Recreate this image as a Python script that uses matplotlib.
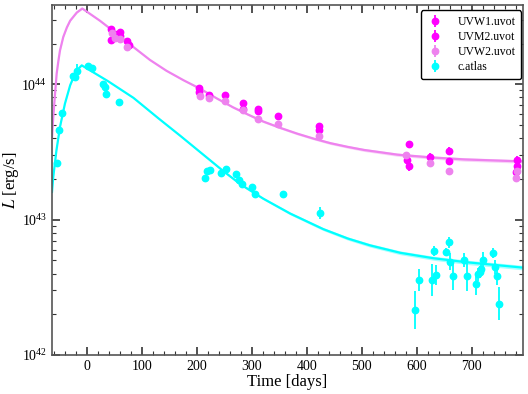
import matplotlib
matplotlib.use('Agg')
import matplotlib.pyplot as plt
import numpy as np
from matplotlib.ticker import MultipleLocator, LogLocator, NullFormatter

plt.rcParams['font.family'] = ['Liberation Serif', 'DejaVu Serif']
plt.rcParams['mathtext.fontset'] = 'stix'

# UVOT bands: time [days], log10 L [erg/s], error [dex]
uvw1_t = [44, 52, 61, 73, 205, 223, 251, 285, 311, 348, 423, 585, 624, 659, 782]
uvw1_logL = [44.41, 44.37, 44.39, 44.32, 43.97, 43.92, 43.92, 43.865, 43.815, 43.764,
             43.69, 43.557, 43.464, 43.51, 43.444]
uvw1_err = [0.02, 0.02, 0.02, 0.02, 0.02, 0.02, 0.02, 0.02, 0.02, 0.02,
            0.02, 0.025, 0.025, 0.025, 0.025]

uvm2_t = [45, 61, 77, 205, 285, 311, 423, 583, 585, 659, 780, 783]
uvm2_logL = [44.33, 44.36, 44.29, 43.94, 43.82, 43.80, 43.66, 43.44, 43.40, 43.434,
             43.353, 43.40]
uvm2_err = [0.02, 0.02, 0.02, 0.02, 0.02, 0.02, 0.02, 0.03, 0.04, 0.025, 0.025, 0.025]

uvw2_t = [46, 52, 61, 74, 206, 223, 251, 285, 311, 348, 423, 580, 624, 659, 782, 780]
uvw2_logL = [44.38, 44.342, 44.332, 44.276, 43.91, 43.90, 43.875, 43.81, 43.74, 43.71,
             43.616, 43.476, 43.415, 43.36, 43.36, 43.31]
uvw2_err = [0.015] * 16

# ATLAS c band
atlas_t = [-54, -50, -45.5, -25.5, -21, -18, 3, 10, 30, 33, 36, 59,
           215, 219, 224, 245, 253, 271.5, 276, 283, 301, 306, 357.5, 424,
           597, 604, 628, 632, 635, 653, 658, 660.5, 665, 685, 691, 708, 711, 714,
           717, 720, 738, 742, 746.5, 750]
atlas_logL = [43.415, 43.66, 43.79, 44.06, 44.054, 44.10, 44.135, 44.12, 44.0, 43.98,
              43.93, 43.87,
              43.31, 43.36, 43.37, 43.345, 43.373, 43.336, 43.29, 43.267, 43.238,
              43.193, 43.186, 43.05,
              42.332, 42.553, 42.553, 42.768, 42.59, 42.76, 42.832, 42.69, 42.58,
              42.70, 42.583, 42.524, 42.595, 42.615, 42.632, 42.70, 42.75, 42.652,
              42.58, 42.38]
atlas_err = [0.015, 0.015, 0.015, 0.015, 0.015, 0.05, 0.015, 0.015, 0.015, 0.015,
             0.015, 0.015,
             0.015, 0.015, 0.015, 0.03, 0.015, 0.015, 0.015, 0.015, 0.015,
             0.015, 0.015, 0.045,
             0.14, 0.08, 0.12, 0.037, 0.076, 0.03, 0.04, 0.06, 0.1,
             0.05, 0.11, 0.08, 0.05, 0.045, 0.045, 0.06, 0.037, 0.05,
             0.06, 0.12]

# model curves
uv_model_t = [-63, -60.7, -57.5, -54.5, -51.5, -48.5, -42.5, -36, -30, -24, -18, -13,
              -8, 24, 54.5, 85, 115, 145, 176, 206, 236, 266, 294, 321, 352, 383,
              413, 443, 474, 504, 565, 625, 686, 793]
uv_model_logL = [43.61, 43.76, 43.93, 44.08, 44.17, 44.25, 44.35, 44.42, 44.47, 44.50,
                 44.53, 44.545, 44.56, 44.47, 44.374, 44.275, 44.18, 44.10, 44.03,
                 43.968, 43.897, 43.83, 43.775, 43.725, 43.678, 43.635, 43.598, 43.565,
                 43.538, 43.515, 43.48, 43.46, 43.445, 43.43]
uv_model_band = [0.004] * 19 + [0.006, 0.006, 0.007, 0.007, 0.008, 0.008, 0.009,
                                0.009, 0.010, 0.010, 0.011, 0.012, 0.012, 0.013, 0.013]

c_model_t = [-63, -60.7, -55, -48.5, -39.5, -30, -21, -15, -9, 40, 85, 130, 170, 206,
             248, 280, 321, 370, 430, 475, 515, 570, 630, 691, 794]
c_model_logL = [43.205, 43.316, 43.51, 43.685, 43.857, 43.993, 44.08, 44.115, 44.14,
                44.02, 43.90, 43.75, 43.62, 43.50, 43.36, 43.26, 43.155, 43.045, 42.93,
                42.86, 42.81, 42.755, 42.715, 42.685, 42.645]
c_model_band = [0.004] * 12 + [0.005, 0.006, 0.007, 0.008, 0.008, 0.010, 0.011, 0.012,
                               0.013, 0.014, 0.015, 0.016, 0.017]

violet = '#ee82ee'
magenta = '#ff00ff'
cyan = '#00ffff'

fig = plt.figure(figsize=(5.28, 3.94), dpi=100)
ax = fig.add_axes([0.0985, 0.099, 0.892, 0.888])


def band(t, logL, w, color):
    t = np.array(t)
    logL = np.array(logL)
    w = np.array(w)
    ax.fill_between(t, 10 ** (logL - w), 10 ** (logL + w), color=color, alpha=0.35, lw=0)
    ax.plot(t, 10 ** logL, color=color, lw=1.6)


band(uv_model_t, uv_model_logL, uv_model_band, violet)
band(c_model_t, c_model_logL, c_model_band, cyan)


def points(t, logL, err, color, label):
    logL = np.array(logL)
    err = np.array(err)
    y = 10 ** logL
    lo = y - 10 ** (logL - err)
    hi = 10 ** (logL + err) - y
    ax.errorbar(t, y, yerr=[lo, hi], fmt='o', color=color, ms=4.6, elinewidth=1.3,
                capsize=0, label=label)


points(uvw1_t, uvw1_logL, uvw1_err, magenta, 'UVW1.uvot')
points(uvm2_t, uvm2_logL, uvm2_err, magenta, 'UVM2.uvot')
points(uvw2_t, uvw2_logL, uvw2_err, violet, 'UVW2.uvot')
points(atlas_t, atlas_logL, atlas_err, cyan, 'c.atlas')

ax.set_yscale('log')
ax.set_xlim(-63, 793)
ax.set_ylim(1e42, 10 ** 44.585)
ax.xaxis.set_major_locator(MultipleLocator(100))
ax.xaxis.set_minor_locator(MultipleLocator(20))
ax.yaxis.set_major_locator(LogLocator(base=10, numticks=10))
ax.yaxis.set_minor_locator(LogLocator(base=10, subs=np.arange(2, 10), numticks=10))
ax.yaxis.set_minor_formatter(NullFormatter())
ax.tick_params(which='both', direction='in', top=True, right=True, labelsize=10,
               color='#333333')
ax.tick_params(which='major', length=6, width=1.2)
ax.tick_params(which='minor', length=3, width=0.8)
for s in ax.spines.values():
    s.set_color('#555555')
    s.set_linewidth(1.2)

ax.set_xlabel('Time [days]', fontsize=12, labelpad=1)
ax.set_ylabel(r'$L$ [erg/s]', fontsize=12, labelpad=0)

leg = ax.legend(loc='upper right', bbox_to_anchor=(1.0, 0.99), fontsize=8.5,
                frameon=True, fancybox=True, edgecolor='black', framealpha=1,
                handletextpad=1.1, borderpad=0.5, labelspacing=0.25,
                handlelength=1.5, borderaxespad=0.15)
leg.get_frame().set_linewidth(1.0)

fig.savefig('out.png', dpi=100)
